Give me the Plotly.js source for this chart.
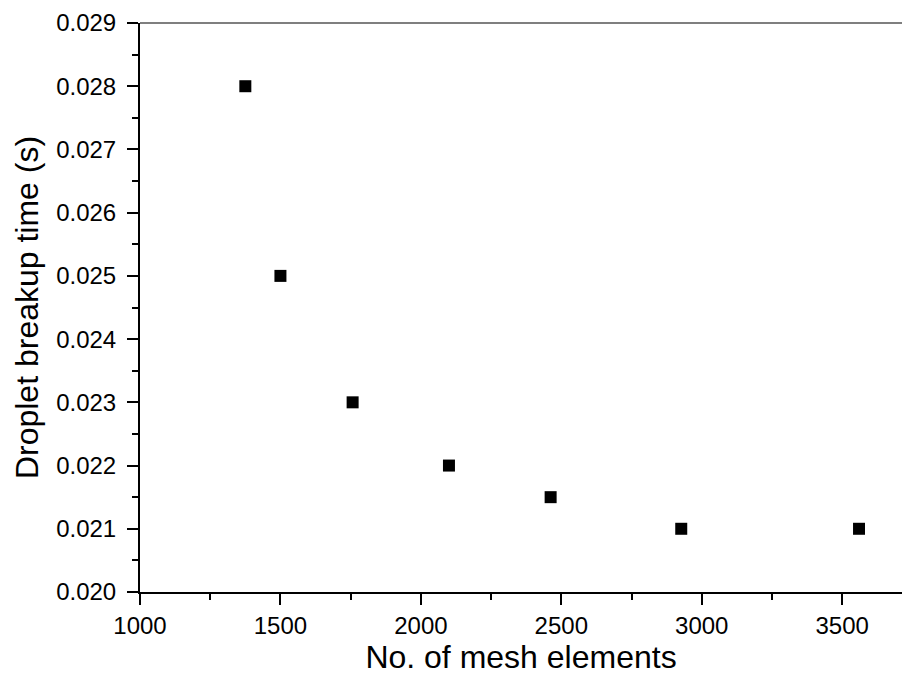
<!DOCTYPE html>
<html>
<head>
<meta charset="utf-8">
<script src="https://cdn.plot.ly/plotly-3.0.1.min.js"></script>
<style>html,body{margin:0;padding:0;background:#fff;}#chart{width:902px;height:686px;}</style>
</head>
<body>
<div id="chart"></div>
<script>
const meshElements = [1375, 1500, 1757, 2100, 2462, 2927, 3560];
const breakupTime = [0.028, 0.025, 0.023, 0.022, 0.0215, 0.021, 0.021];
const xTitle = 'No. of mesh elements';
const yTitle = 'Droplet breakup time (s)';

const font = 'Liberation Sans, Arial, sans-serif';

const trace = {
  x: meshElements,
  y: breakupTime,
  type: 'scatter',
  mode: 'markers',
  marker: {symbol: 'square', size: 12, color: '#000'},
  hoverinfo: 'x+y'
};

const layout = {
  width: 902, height: 686,
  margin: {l: 140, r: 0, t: 23, b: 94},
  paper_bgcolor: '#fff', plot_bgcolor: '#fff',
  showlegend: false,
  font: {family: font, color: '#000'},
  xaxis: {
    range: [1000, 3713],
    tickmode: 'linear', tick0: 1000, dtick: 500,
    ticks: 'outside', ticklen: 11, tickwidth: 2, tickcolor: '#000',
    minor: {dtick: 250, ticks: 'outside', ticklen: 6, tickwidth: 2, tickcolor: '#000'},
    showline: true, linewidth: 2, linecolor: '#000',
    showgrid: false, zeroline: false,
    tickfont: {size: 24, family: font, color: '#000'},
    title: {text: xTitle, font: {size: 32, family: font, color: '#000'}, standoff: 8}
  },
  yaxis: {
    range: [0.020, 0.029],
    tickmode: 'linear', tick0: 0.020, dtick: 0.001,
    tickformat: '.3f',
    ticks: 'outside', ticklen: 11, tickwidth: 2, tickcolor: '#000',
    ticklabelstandoff: 6,
    minor: {dtick: 0.0005, ticks: 'outside', ticklen: 6, tickwidth: 2, tickcolor: '#000'},
    showline: true, linewidth: 2, linecolor: '#000',
    showgrid: false, zeroline: false,
    tickfont: {size: 24, family: font, color: '#000'},
    title: {text: yTitle, font: {size: 32, family: font, color: '#000'}, standoff: 8}
  },
  shapes: [{
    type: 'line', xref: 'paper', yref: 'paper', x0: 0, x1: 1, y0: 1, y1: 1,
    line: {color: '#555', width: 1.5}
  }]
};

Plotly.newPlot('chart', [trace], layout, {displayModeBar: false, staticPlot: true});
</script>
</body>
</html>
